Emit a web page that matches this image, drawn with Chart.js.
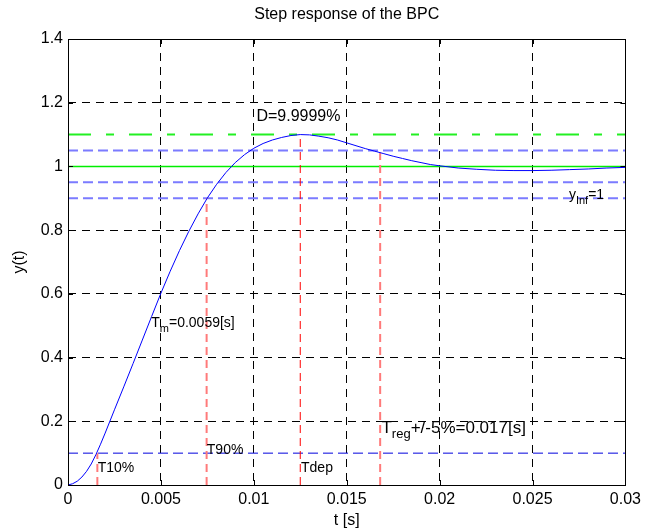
<!DOCTYPE html>
<html>
<head>
<meta charset="utf-8">
<script src="https://cdn.jsdelivr.net/npm/chart.js@4.4.1/dist/chart.umd.min.js"></script>
<style>
  html, body { margin: 0; padding: 0; background: #fff; }
  #wrap { width: 646px; height: 530px; }
</style>
</head>
<body>
<div id="wrap"><canvas id="stepChart" width="646" height="530"></canvas></div>
<script>
// sampled step response y(t)
const timeS = [
  0, 0.00025, 0.0005, 0.00075, 0.001, 0.00125, 0.0015, 0.00175, 0.002, 0.0025,
  0.003, 0.0035, 0.004, 0.0045, 0.005, 0.0055, 0.006, 0.0065, 0.007, 0.0075,
  0.008, 0.0085, 0.009, 0.0095, 0.01, 0.0105, 0.011, 0.0115, 0.012, 0.0125,
  0.013, 0.0135, 0.014, 0.0145, 0.015, 0.0155, 0.016, 0.0165, 0.017, 0.0175,
  0.018, 0.0185, 0.019, 0.0195, 0.02, 0.021, 0.022, 0.023, 0.024, 0.025,
  0.026, 0.027, 0.028, 0.029, 0.03
];
const response = [
  0, 0.004, 0.012, 0.025, 0.043, 0.066, 0.095, 0.128, 0.163, 0.236,
  0.308, 0.381, 0.455, 0.529, 0.602, 0.671, 0.736, 0.796, 0.851, 0.901,
  0.944, 0.981, 1.012, 1.037, 1.057, 1.072, 1.083, 1.091, 1.097, 1.099999,
  1.099, 1.095, 1.09, 1.083, 1.074, 1.065, 1.056, 1.048, 1.04, 1.032,
  1.025, 1.018, 1.012, 1.006, 1.002, 0.995, 0.991, 0.988, 0.987, 0.987,
  0.988, 0.99, 0.992, 0.995, 0.997
];

const xTicks = [0, 0.005, 0.01, 0.015, 0.02, 0.025, 0.03];
const xTickLabels = ['0', '0.005', '0.01', '0.015', '0.02', '0.025', '0.03'];
const yTicks = [0, 0.2, 0.4, 0.6, 0.8, 1, 1.2, 1.4];
const yTickLabels = ['0', '0.2', '0.4', '0.6', '0.8', '1', '1.2', '1.4'];

// characteristic values of the response
const yInf = 1;
const yPeak = 1.099999;
const tPeak = 0.0125;
const bandLevels = [1.05, 0.95];
const level90 = 0.9;
const level10 = 0.1;
const t10 = 0.00158;
const t90 = 0.00746;
const tReg = 0.0168;
const yAtReg = 1.044;
const tM = 0.0059;

const FONT = '"Liberation Sans", Arial, Helvetica, sans-serif';

const hline = (level) => [{ x: 0, y: level }, { x: 0.03, y: level }];
const vline = (t, top) => [{ x: t, y: 0 }, { x: t, y: top }];

const lineSet = (data, color, width, dash) => ({
  data,
  borderColor: color,
  borderWidth: width,
  borderDash: dash,
  pointRadius: 0,
  fill: false,
  tension: 0,
});

// text placed in data coordinates, [text, isSubscript]
const notes = [
  { t: 0.01014, y: 1.155, size: 16, parts: [['D=' + ((yPeak - yInf) * 100).toFixed(4) + '%']] },
  { t: 0.00448, y: 0.508, size: 14, parts: [['T'], ['m', true], ['=' + tM.toFixed(4) + '[s]']] },
  { t: 0.0016, y: 0.053, size: 14, parts: [['T10%']] },
  { t: 0.00747, y: 0.11, size: 14, parts: [['T90%']] },
  { t: 0.01254, y: 0.053, size: 14, parts: [['Tdep']] },
  { t: 0.01687, y: 0.179, size: 17, parts: [['T'], ['reg', true], ['+/-5%=' + tReg.toFixed(3) + '[s]']] },
  { t: 0.02696, y: 0.91, size: 14, parts: [['y'], ['Inf', true], ['=' + yInf]] },
];

const decorations = {
  id: 'decorations',
  afterDraw(chart) {
    const { ctx, chartArea: a, scales: { x, y } } = chart;
    const px = (v) => Math.round(v) + 0.5;
    ctx.save();
    ctx.setLineDash([]);
    ctx.strokeStyle = '#000';
    ctx.lineWidth = 1;

    // box and inward ticks
    ctx.strokeRect(px(a.left), px(a.top), Math.round(a.right) - Math.round(a.left), Math.round(a.bottom) - Math.round(a.top));
    ctx.beginPath();
    xTicks.forEach((v) => {
      const xp = px(x.getPixelForValue(v));
      ctx.moveTo(xp, a.bottom); ctx.lineTo(xp, a.bottom - 5);
      ctx.moveTo(xp, a.top); ctx.lineTo(xp, a.top + 5);
    });
    yTicks.forEach((v) => {
      const yp = px(y.getPixelForValue(v));
      ctx.moveTo(a.left, yp); ctx.lineTo(a.left + 5, yp);
      ctx.moveTo(a.right, yp); ctx.lineTo(a.right - 5, yp);
    });
    ctx.stroke();

    ctx.fillStyle = '#000';
    ctx.textBaseline = 'middle';
    ctx.textAlign = 'center';
    ctx.font = '16px ' + FONT;
    ctx.fillText('Step response of the BPC', (a.left + a.right) / 2, 15);

    ctx.textAlign = 'left';
    notes.forEach((n) => {
      let cx = x.getPixelForValue(n.t);
      const cy = y.getPixelForValue(n.y);
      n.parts.forEach(([text, sub]) => {
        const size = sub ? Math.round(n.size * 0.75) : n.size;
        ctx.font = size + 'px ' + FONT;
        ctx.fillText(text, cx, sub ? cy + n.size * 0.4 : cy);
        cx += ctx.measureText(text).width;
      });
    });
    ctx.restore();
  },
};

new Chart(document.getElementById('stepChart'), {
  type: 'line',
  data: {
    datasets: [
      lineSet(timeS.map((t, i) => ({ x: t, y: response[i] })), '#0000ff', 1, []),
      lineSet(vline(t10, level10), '#ff7a7a', 2, [8, 5]),
      lineSet(vline(t90, level90), '#ff7a7a', 2, [8, 5]),
      lineSet(vline(tPeak, yPeak), '#ff0000', 1, [8, 5]),
      lineSet(vline(tReg, yAtReg), '#ff7a7a', 2, [8, 5]),
      lineSet(hline(yPeak), '#22f022', 2, [23, 15, 8, 15]),
      lineSet(hline(yInf), '#00ee00', 1.5, []),
      lineSet(hline(bandLevels[0]), '#7b7bff', 2, [10, 5]),
      lineSet(hline(bandLevels[1]), '#7b7bff', 2, [10, 5]),
      lineSet(hline(level90), '#7b7bff', 2, [10, 5]),
      lineSet(hline(level10), '#0000dd', 1, [10, 5]),
    ],
  },
  options: {
    responsive: false,
    animation: false,
    layout: { padding: { left: 0, right: 16, top: 39, bottom: 0 } },
    plugins: {
      legend: { display: false },
      tooltip: { enabled: false },
      title: { display: false },
    },
    scales: {
      x: {
        type: 'linear',
        min: 0,
        max: 0.03,
        afterBuildTicks: (scale) => { scale.ticks = xTicks.map((v) => ({ value: v })); },
        afterFit: (scale) => { scale.height = 45; },
        ticks: {
          autoSkip: false,
          maxRotation: 0,
          padding: 5,
          color: '#000',
          font: { family: FONT, size: 16 },
          callback: (v, i) => xTickLabels[i],
        },
        grid: { color: '#000', lineWidth: 1, drawTicks: false },
        border: { display: false, dash: [8, 6] },
        title: {
          display: true,
          text: 't [s]',
          color: '#000',
          font: { family: FONT, size: 16 },
          padding: { top: 0, bottom: 0 },
        },
      },
      y: {
        min: 0,
        max: 1.4,
        afterBuildTicks: (scale) => { scale.ticks = yTicks.map((v) => ({ value: v })); },
        afterFit: (scale) => { scale.width = 68; },
        ticks: {
          autoSkip: false,
          padding: 5,
          color: '#000',
          font: { family: FONT, size: 16 },
          callback: (v, i) => yTickLabels[i],
        },
        grid: { color: '#000', lineWidth: 1, drawTicks: false },
        border: { display: false, dash: [8, 6] },
        title: {
          display: true,
          text: 'y(t)',
          color: '#000',
          font: { family: FONT, size: 16 },
          padding: { top: 10, bottom: 0 },
        },
      },
    },
  },
  plugins: [decorations],
});
</script>
</body>
</html>
